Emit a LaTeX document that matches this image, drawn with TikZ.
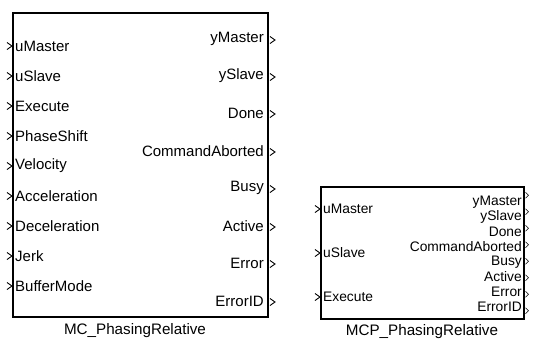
\documentclass[tikz,border=0pt]{standalone}
\usepackage{fontspec}
\setmainfont{Liberation Sans}
\begin{document}
\begin{tikzpicture}[x=1pt,y=-1pt,
  blk/.style={draw=black,line width=1.2pt,inner sep=0pt,outer sep=0pt},
  port/.style={font=\fontsize{15}{16}\selectfont,inner sep=0pt},
  sport/.style={font=\fontsize{13.8}{14}\selectfont,inner sep=0pt},
  blabel/.style={font=\fontsize{15.2}{16}\selectfont,inner sep=0pt},
  chev/.style={draw=black,line width=0.9pt}]
\useasboundingbox (0,0) rectangle (533,338);
% big block
\node[blk,minimum width=255pt,minimum height=304pt] (big) at (140.5,165) {};
\foreach \t [count=\i from 0] in {uMaster,uSlave,Execute,PhaseShift,Velocity,Acceleration,Deceleration,Jerk,BufferMode}{
  \pgfmathsetmacro{\yy}{46+30*\i}
  \node[port,anchor=west] (in\i) at (15,\yy) {\t};
  \draw[chev] (7,\yy-3.5) -- (12,\yy) -- (7,\yy+3.5);
}
\foreach \t/\yy [count=\i from 0] in {yMaster/40,ySlave/77,Done/114,CommandAborted/152,Busy/189,Active/227,Error/264,ErrorID/302}{
  \node[port,anchor=east] (out\i) at (264,\yy-1) {\t};
  \draw[chev] (270,\yy-3.5) -- (275,\yy) -- (270,\yy+3.5);
}
\node[blabel] (lbig) at (135,331) {MC\_PhasingRelative};
% small block
\node[blk,minimum width=203pt,minimum height=132pt] (small) at (422.5,253) {};
\foreach \t/\yy [count=\i from 0] in {uMaster/209,uSlave/253,Execute/297}{
  \node[sport,anchor=west] (sin\i) at (323,\yy) {\t};
  \draw[chev] (315,\yy-3.5) -- (320,\yy) -- (315,\yy+3.5);
}
\foreach \t/\yy [count=\i from 0] in {yMaster/202,ySlave/217,Done/232,CommandAborted/247,Busy/262,Active/277,Error/292,ErrorID/307}{
  \node[sport,anchor=east] (sout\i) at (522,\yy) {\t};
}
\foreach \i in {0,...,7}{
  \pgfmathsetmacro{\yy}{195.25+16.5*\i}
  \draw[chev,line width=0.6pt] (525.5,\yy-3) -- (528.5,\yy) -- (525.5,\yy+3);
}
\node[blabel] (lsmall) at (422,332) {MCP\_PhasingRelative};
\end{tikzpicture}
\end{document}
